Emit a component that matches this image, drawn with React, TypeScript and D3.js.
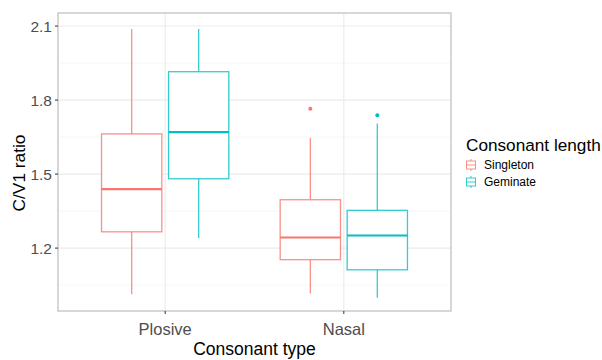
import React from 'react';
import * as d3 from 'd3';

const consonantTypes = ['Plosive', 'Nasal'];
const consonantLengths = ['Singleton', 'Geminate'];
const lengthColors = ['#F8766D', '#00BFC4'];
const yTicks = [1.2, 1.5, 1.8, 2.1];
const yMinorTicks = [1.05, 1.35, 1.65, 1.95];

// [lower whisker, q1, median, q3, upper whisker]
const plosiveSingleton = [1.013, 1.266, 1.439, 1.663, 2.088];
const plosiveGeminate = [1.241, 1.481, 1.670, 1.915, 2.088];
const nasalSingleton = [1.016, 1.153, 1.243, 1.396, 1.646];
const nasalGeminate = [0.999, 1.112, 1.251, 1.353, 1.705];
const nasalSingletonOutliers = [1.765];
const nasalGeminateOutliers = [1.739];

const boxes = [
  { type: 'Plosive', length: 'Singleton', stats: plosiveSingleton, outliers: [] as number[] },
  { type: 'Plosive', length: 'Geminate', stats: plosiveGeminate, outliers: [] as number[] },
  { type: 'Nasal', length: 'Singleton', stats: nasalSingleton, outliers: nasalSingletonOutliers },
  { type: 'Nasal', length: 'Geminate', stats: nasalGeminate, outliers: nasalGeminateOutliers },
];

const W = 602;
const H = 360;
const margin = { left: 58, top: 13, right: 151, bottom: 49 };
const font = '"Liberation Sans", Arial, sans-serif';

const App = () => {
  const width = W - margin.left - margin.right;
  const height = H - margin.top - margin.bottom;

  // ggplot discrete expansion: 0.6 units each side
  const xs = d3.scaleLinear().domain([0.4, 2.6]).range([0, width]);
  const xPos = (t: string) => xs(consonantTypes.indexOf(t) + 1);
  const unit = xs(1) - xs(0);
  const boxW = unit * 0.3375;
  const dodge = unit * 0.1875;

  const y = d3.scaleLinear().domain([0.945, 2.153]).range([height, 0]);
  const color = d3.scaleOrdinal<string, string>().domain(consonantLengths).range(lengthColors);

  return (
    <svg width={W} height={H} style={{ position: 'absolute', left: 0, top: 0, background: '#fff' }}>
      <g transform={`translate(${margin.left},${margin.top})`}>
        {yMinorTicks.map(t => (
          <line key={'m' + t} x1={0} x2={width} y1={y(t)} y2={y(t)} stroke="#F2F2F2" strokeWidth={0.6} />
        ))}
        {yTicks.map(t => (
          <line key={'g' + t} x1={0} x2={width} y1={y(t)} y2={y(t)} stroke="#EBEBEB" strokeWidth={1.1} />
        ))}
        {consonantTypes.map(t => (
          <line key={'v' + t} x1={xPos(t)} x2={xPos(t)} y1={0} y2={height} stroke="#EBEBEB" strokeWidth={1.1} />
        ))}
        {boxes.map((b, i) => {
          const cx = xPos(b.type) + (b.length === 'Singleton' ? -dodge : dodge);
          const c = color(b.length);
          const [lo, q1, med, q3, hi] = b.stats;
          return (
            <g key={i} stroke={c} fill="none">
              <line x1={cx} x2={cx} y1={y(hi)} y2={y(q3)} strokeWidth={1.3} strokeOpacity={0.8} />
              <line x1={cx} x2={cx} y1={y(q1)} y2={y(lo)} strokeWidth={1.3} strokeOpacity={0.8} />
              <rect x={cx - boxW / 2} y={y(q3)} width={boxW} height={y(q1) - y(q3)} fill="#fff" strokeWidth={1.3} strokeOpacity={0.8} />
              <line x1={cx - boxW / 2} x2={cx + boxW / 2} y1={y(med)} y2={y(med)} strokeWidth={2.2} />
              {b.outliers.map((o, j) => (
                <circle key={j} cx={cx} cy={y(o)} r={2} fill={c} stroke="none" />
              ))}
            </g>
          );
        })}
        <rect x={0} y={0} width={width} height={height} fill="none" stroke="#BDBDBD" strokeWidth={1.2} />
        {yTicks.map(t => (
          <g key={'t' + t} transform={`translate(0,${y(t)})`}>
            <line x1={-3} x2={0} stroke="#333" strokeWidth={1} />
            <text x={-6} dy="0.36em" textAnchor="end" fontSize={15.5} fill="#4D4D4D" fontFamily={font}>
              {d3.format('.1f')(t)}
            </text>
          </g>
        ))}
        {consonantTypes.map(t => (
          <g key={'x' + t} transform={`translate(${xPos(t)},${height})`}>
            <line y1={0} y2={3} stroke="#333" strokeWidth={1} />
            <text y={23.5} textAnchor="middle" fontSize={16.5} fill="#4D4D4D" fontFamily={font}>{t}</text>
          </g>
        ))}
        <text x={width / 2} y={height + 44} textAnchor="middle" fontSize={17.5} fill="#000" fontFamily={font}>
          Consonant type
        </text>
        <text transform={`translate(${-33},${height / 2 + 11}) rotate(-90)`} textAnchor="middle" fontSize={17.3} fill="#000" fontFamily={font}>
          C/V1 ratio
        </text>
      </g>
      <g transform="translate(466,0)">
        <text x={0} y={150.5} fontSize={17.2} fill="#000" fontFamily={font}>Consonant length</text>
        {consonantLengths.map((l, i) => {
          const cy = 165 + i * 17;
          const c = color(l);
          return (
            <g key={l}>
              <g stroke={c} fill="none" strokeOpacity={0.8}>
                <line x1={5} x2={5} y1={cy - 6} y2={cy + 6} strokeWidth={1} />
                <rect x={0.5} y={cy - 4} width={9} height={8} fill="#fff" strokeWidth={1} />
                <line x1={0.5} x2={9.5} y1={cy} y2={cy} strokeWidth={1} />
              </g>
              <text x={18} y={cy} dy="0.36em" fontSize={12} fill="#000" fontFamily={font}>{l}</text>
            </g>
          );
        })}
      </g>
    </svg>
  );
};

export default App;
